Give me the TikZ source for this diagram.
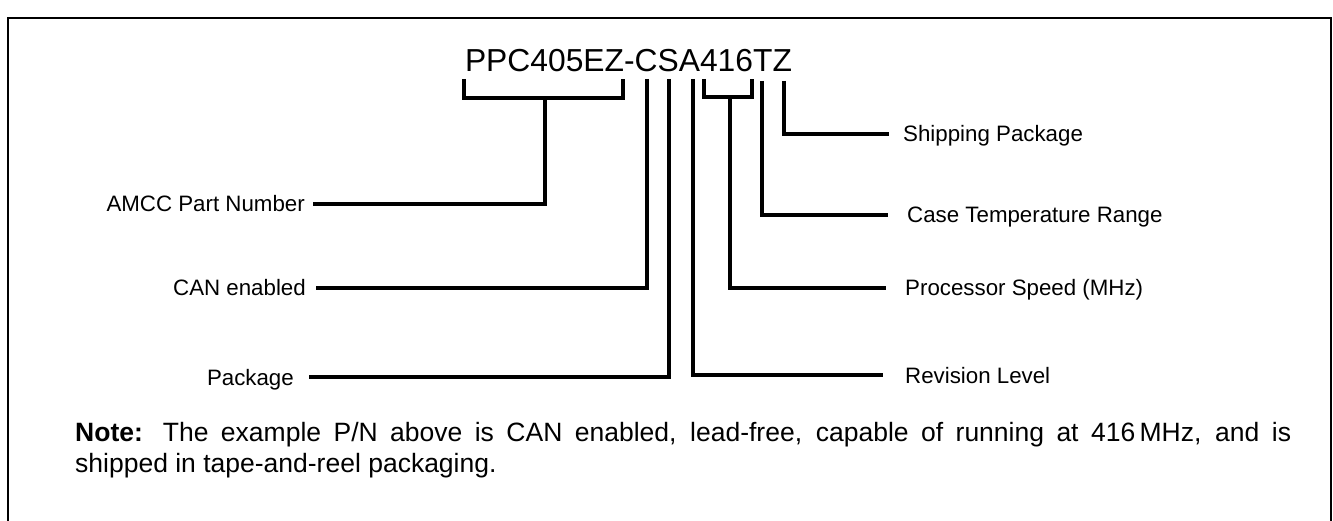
\documentclass[tikz,border=0pt]{standalone}
\usepackage{fontspec}
\setmainfont{Liberation Sans}
\begin{document}
\begin{tikzpicture}[x=1pt,y=-1pt,
  conn/.style={line width=3.6pt, line join=miter, line cap=butt},
  frame/.style={line width=2.4pt},
  lab/.style={font=\fontsize{22.3}{26}\selectfont, inner sep=0pt, text height=16pt, text depth=0pt},
  titletext/.style={font=\fontsize{31.8}{36}\selectfont, inner sep=0pt},
  notetext/.style={font=\fontsize{26.5}{31}\selectfont, inner sep=0pt, text width=1216pt, align=justify}]
\useasboundingbox (0,0) rectangle (1333,521);
% frame (open at the bottom)
\draw[frame] (8,521) -- (8,18) -- (1331,18) -- (1331,521);
% part number
\node[titletext, anchor=base] (pn) at (628.5,72) {PPC405EZ-CSA416TZ};
% attachment points under the characters
\coordinate (b1l) at (464,79);
\coordinate (b1r) at (623,79);
\coordinate (b1m) at (545,98);
\coordinate (pC) at (647,79);
\coordinate (pS) at (669,79);
\coordinate (pA) at (693,79);
\coordinate (b2l) at (704,79);
\coordinate (b2r) at (752,79);
\coordinate (b2m) at (730,97);
\coordinate (pT) at (762,81);
\coordinate (pZ) at (784,81);
% labels
\node[lab, anchor=east] (amcc) at (305,204) {AMCC Part Number};
\node[lab, anchor=east] (can) at (306,288) {CAN enabled};
\node[lab, anchor=east] (pkg) at (294,377) {Package};
\node[lab, anchor=west] (ship) at (903,134) {Shipping Package};
\node[lab, anchor=west] (temp) at (907,215) {Case Temperature Range};
\node[lab, anchor=west] (speed) at (905,288) {Processor Speed (MHz)};
\node[lab, anchor=west] (rev) at (905,375) {Revision Level};
% brackets
\draw[conn] (b1l) -- (b1l |- b1m) -- (b1r |- b1m) -- (b1r);
\draw[conn] (b2l) -- (b2l |- b2m) -- (b2r |- b2m) -- (b2r);
% connectors
\draw[conn] (b1m) |- ([xshift=8pt]amcc.east);
\draw[conn] (pC) |- ([xshift=10pt]can.east);
\draw[conn] (pS) |- ([xshift=15pt]pkg.east);
\draw[conn] (pA) |- ([xshift=-22pt]rev.west);
\draw[conn] (b2m) |- ([xshift=-19pt]speed.west);
\draw[conn] (pT) |- ([xshift=-19pt]temp.west);
\draw[conn] (pZ) |- ([xshift=-14pt]ship.west);
% note
\node[notetext, anchor=north west] (note) at (75,422) {\textbf{Note:} The example P/N above is CAN enabled, lead-free, capable of running at 416\,MHz, and is\linebreak shipped in tape-and-reel packaging.};
\end{tikzpicture}
\end{document}
